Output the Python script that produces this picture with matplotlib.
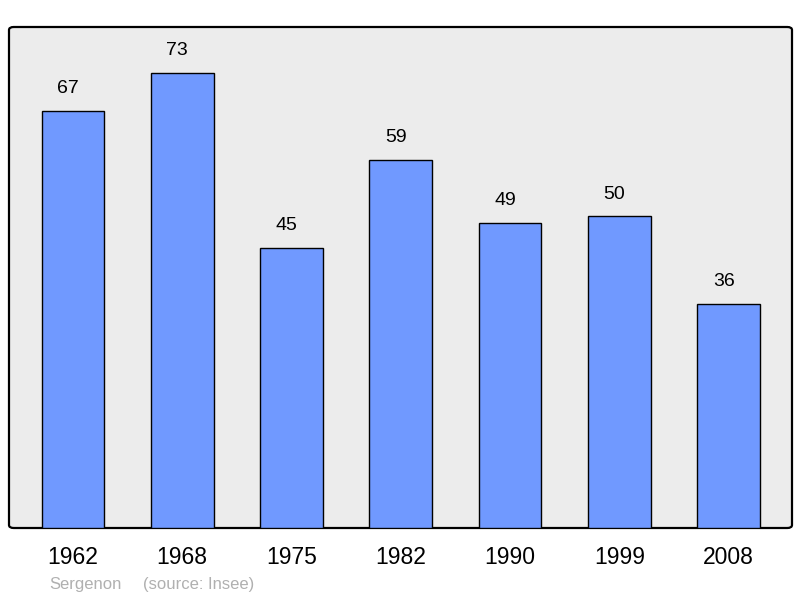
import matplotlib
matplotlib.use("Agg")
import matplotlib.pyplot as plt
from matplotlib.patches import FancyBboxPatch

years = ["1962", "1968", "1975", "1982", "1990", "1999", "2008"]
population = [67, 73, 45, 59, 49, 50, 36]
credit_left = "Sergenon"
credit_right = "(source: Insee)"

plt.rcParams['font.family'] = ['Liberation Sans', 'DejaVu Sans']

fig = plt.figure(figsize=(8, 5.98), dpi=100)
ax = fig.add_axes([9/800, 70/598, 783/800, 501/598])
ax.set_xlim(-0.585, len(years) - 1 + 0.58)
ax.set_ylim(0, 80.4)
ax.set_facecolor('none')
for s in ax.spines.values():
    s.set_visible(False)

bg = FancyBboxPatch((0, 0), 1, 1, boxstyle="round,pad=0,rounding_size=0.006",
                    transform=ax.transAxes, facecolor='#ececec', edgecolor='black',
                    linewidth=1.6, zorder=0, clip_on=False)
ax.add_patch(bg)

x = list(range(len(years)))
bars = ax.bar(x, population, width=0.575, color='#7099ff', edgecolor='black',
              linewidth=1.0, zorder=2)
for xi, v in zip(x, population):
    ax.annotate(str(v), (xi, v), xytext=(-3.5, 10), textcoords='offset points',
                ha='center', va='bottom', fontsize=14, color='black')

ax.set_xticks(x)
ax.set_xticklabels(years, fontsize=16.5)
ax.tick_params(axis='x', length=0, pad=13)
ax.set_yticks([])

fig.text(49/800, 1 - 584/598, credit_left, fontsize=12, color='#b0b0b0', va='center', ha='left')
fig.text(143/800, 1 - 584/598, credit_right, fontsize=12, color='#b0b0b0', va='center', ha='left')

fig.savefig("out.png", dpi=100)
